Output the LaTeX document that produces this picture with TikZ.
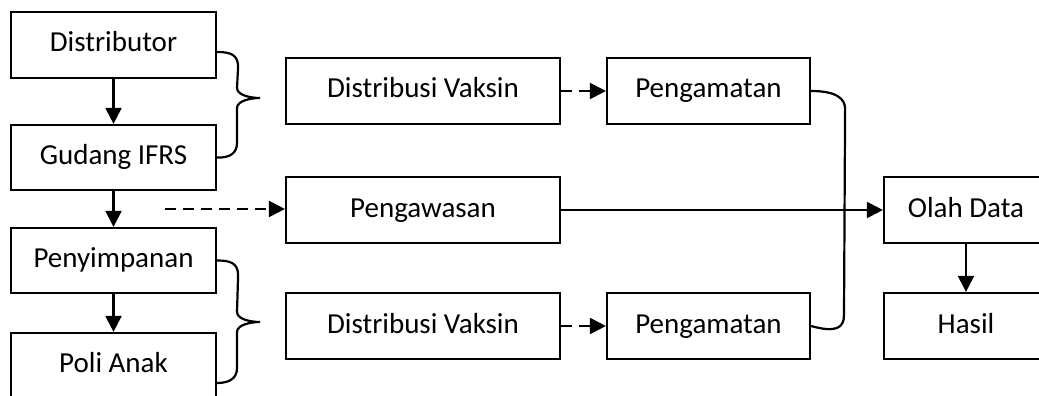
\documentclass[tikz,border=0pt]{standalone}
\usepackage{fontspec}
\setmainfont{Carlito}
\usetikzlibrary{arrows.meta}
\begin{document}
\begin{tikzpicture}[x=1pt,y=-1pt,
  box/.style={draw,line width=2.2pt,minimum height=66,inner sep=0pt,text height=20pt,text depth=6pt,font=\fontsize{29}{34}\selectfont},
  arr/.style={line width=2.2pt,-{Triangle[length=16pt,width=16pt]}},
  darr/.style={arr,dash pattern=on 11pt off 7pt},
  brace/.style={line width=2.2pt}]
\useasboundingbox (0,0) rectangle (1039,396);
% left column
\node[box,minimum width=205] (dist) at (113.5,45) {Distributor};
\node[box,minimum width=205,minimum height=65] (gud) at (113.5,157.5) {Gudang IFRS};
\node[box,minimum width=205,minimum height=65] (peny) at (113.5,260.5) {Penyimpanan};
\node[box,minimum width=205,minimum height=64] (poli) at (113.5,365) {Poli Anak};
% middle
\node[box,minimum width=274] (dv1) at (423,91) {Distribusi Vaksin};
\node[box,minimum width=203] (pg1) at (708.5,91) {Pengamatan};
\node[box,minimum width=274] (paw) at (423,210) {Pengawasan};
\node[box,minimum width=274] (dv2) at (423,326) {Distribusi Vaksin};
\node[box,minimum width=203] (pg2) at (708.5,326) {Pengamatan};
% right
\node[box,minimum width=164] (olah) at (966,210) {Olah Data};
\node[box,minimum width=164] (hasil) at (966,326) {Hasil};
% arrows
\draw[arr] (dist) -- (gud);
\draw[arr] (gud) -- (peny);
\draw[arr] (peny) -- (poli);
\draw[arr] (olah) -- (hasil);
\draw[arr] (paw) -- (olah);
\draw[darr] (dv1) -- (pg1);
\draw[darr] (dv2) -- (pg2);
\coordinate (dstart) at (165,209);
\draw[darr] (dstart) -- (paw.west |- dstart);
% left braces
\coordinate (b1) at (260,98);
\draw[brace] ([yshift=-7pt]dist.east) .. controls +(14,0) and +(0,-12) .. ++(21,15)
  -- (237,88) .. controls (237,95) and (250,98) .. (b1)
  .. controls (250,98) and (237,101) .. (237,108)
  -- (237,143) .. controls (237,153) and (230,158) .. (gud.east);
\coordinate (b2) at (260,322);
\draw[brace] (peny.east) .. controls +(14,0) and +(0,-12) .. ++(21,15)
  -- (237,312) .. controls (237,319) and (250,322) .. (b2)
  .. controls (250,322) and (237,325) .. (237,332)
  -- (237,368) .. controls (237,378) and (230,383) .. (217,383);
% right joining curve
\draw[brace] (pg1.east) .. controls +(26,0) and +(0,-10) .. ++(34,18)
  -- (844,315) .. controls (844,328) and (836,333) .. (pg2.east);
\end{tikzpicture}
\end{document}
